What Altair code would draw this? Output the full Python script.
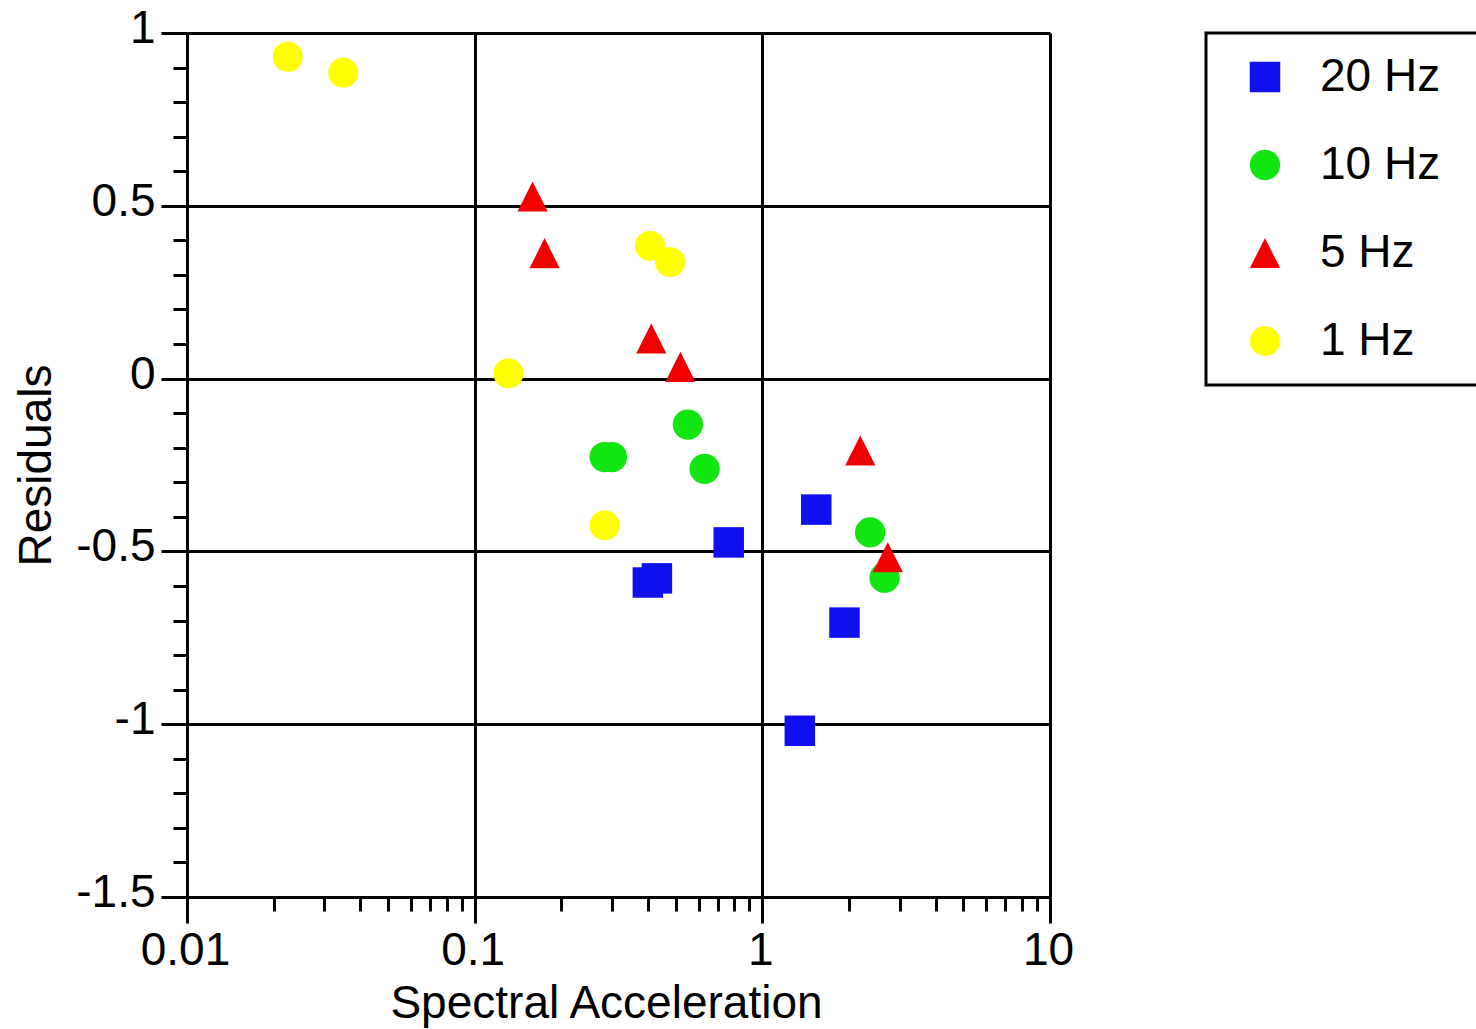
import altair as alt
import pandas as pd

# ---- data ----
series_names = ["20 Hz", "10 Hz", "5 Hz", "1 Hz"]

hz20_sa = [0.40, 0.43, 0.764, 1.54, 1.93, 1.35]
hz20_res = [-0.59, -0.578, -0.474, -0.379, -0.706, -1.019]

hz10_sa = [0.283, 0.300, 0.551, 0.630, 2.37, 2.66]
hz10_res = [-0.227, -0.227, -0.133, -0.261, -0.445, -0.576]

hz5_sa = [0.159, 0.175, 0.411, 0.519, 2.19, 2.73]
hz5_res = [0.527, 0.363, 0.116, 0.034, -0.208, -0.517]

hz1_sa = [0.0224, 0.0349, 0.407, 0.478, 0.131, 0.283]
hz1_res = [0.931, 0.885, 0.384, 0.337, 0.015, -0.425]

x_major = [0.01, 0.1, 1, 10]
x_minor = [0.02, 0.03, 0.04, 0.05, 0.06, 0.07, 0.08, 0.09,
           0.2, 0.3, 0.4, 0.5, 0.6, 0.7, 0.8, 0.9,
           2, 3, 4, 5, 6, 7, 8, 9]
y_major = [-1.5, -1, -0.5, 0, 0.5, 1]
y_minor = [-1.4, -1.3, -1.2, -1.1, -0.9, -0.8, -0.7, -0.6,
           -0.4, -0.3, -0.2, -0.1, 0.1, 0.2, 0.3, 0.4,
           0.6, 0.7, 0.8, 0.9]

series_colors = ["#0f0ff0", "#12e612", "#f00000", "#ffff00"]
tri = "M0,-1L-1,1L1,1Z"
series_shapes = ["square", "circle", tri, "circle"]
series_sizes = [930, 900, 960, 500]

rows = []
for name, xs, ys in [("20 Hz", hz20_sa, hz20_res), ("10 Hz", hz10_sa, hz10_res),
                     ("5 Hz", hz5_sa, hz5_res), ("1 Hz", hz1_sa, hz1_res)]:
    for a, b in zip(xs, ys):
        rows.append({"sa": a, "res": b, "series": name})
df = pd.DataFrame(rows)
df["order"] = df["series"].map({n: i for i, n in enumerate(series_names)})

FONT = "Liberation Sans"

xscale = alt.Scale(type="log", domain=[0.01, 10], nice=False)
yscale = alt.Scale(domain=[-1.5, 1], nice=False, zero=False)

x_major_axis = alt.Axis(
    orient="bottom", values=x_major, labelExpr="datum.value + ''",
    grid=True, gridColor="black", gridWidth=3, gridOpacity=1,
    tickSize=26, tickWidth=3, tickColor="black",
    domainColor="black", domainWidth=3,
    labelFont=FONT, labelFontSize=46, labelColor="black",
    labelBaseline="alphabetic", labelPadding=41, labelOffset=-2,
    labelFlush=False, labelOverlap=False,
    title="Spectral Acceleration", titleFont=FONT, titleFontSize=46,
    titleFontWeight="normal", titleColor="black",
    titleBaseline="alphabetic", titleAlign="center", titleX=419, titleY=120,
)
y_major_axis = alt.Axis(
    orient="left", values=y_major, labelExpr="datum.value + ''",
    grid=True, gridColor="black", gridWidth=3, gridOpacity=1,
    tickSize=26, tickWidth=3, tickColor="black",
    domainColor="black", domainWidth=3,
    labelFont=FONT, labelFontSize=46, labelColor="black",
    labelBaseline="alphabetic", labelPadding=6, labelOffset=9.5,
    labelFlush=False, labelOverlap=False, labelAlign="right",
    title="Residuals", titleFont=FONT, titleFontSize=46,
    titleFontWeight="normal", titleColor="black",
    titleBaseline="alphabetic", titleAlign="center", titleAngle=270,
    titleX=-137, titleY=432,
)
x_minor_axis = alt.Axis(
    orient="bottom", values=x_minor, labels=False, grid=False, domain=False,
    tickSize=14, tickWidth=3, tickColor="black", title=None,
)
y_minor_axis = alt.Axis(
    orient="left", values=y_minor, labels=False, grid=False, domain=False,
    tickSize=14, tickWidth=3, tickColor="black", title=None,
)

minor = alt.Chart(df).mark_point(opacity=0).encode(
    x=alt.X("sa:Q", scale=xscale, axis=x_minor_axis),
    y=alt.Y("res:Q", scale=yscale, axis=y_minor_axis),
)

legend = alt.Legend(
    title=None, orient="none", legendX=1019, legendY=0,
    labelExpr="datum.label + '\u00a0\u00a0\u200b'",
)

points = alt.Chart(df).mark_point(filled=True, opacity=1, strokeWidth=0).encode(
    x=alt.X("sa:Q", scale=xscale, axis=x_major_axis),
    y=alt.Y("res:Q", scale=yscale, axis=y_major_axis),
    color=alt.Color("series:N", scale=alt.Scale(domain=series_names, range=series_colors), legend=legend),
    shape=alt.Shape("series:N", scale=alt.Scale(domain=series_names, range=series_shapes), legend=legend),
    size=alt.Size("series:N", scale=alt.Scale(domain=series_names, range=series_sizes), legend=legend),
    order=alt.Order("order:Q"),
)

chart = alt.layer(minor, points).resolve_axis(
    x="independent", y="independent"
).properties(
    width=863, height=864,
    autosize=alt.AutoSizeParams(type="none"),
    padding={"left": 187, "top": 33, "right": 426, "bottom": 132},
    background="white",
).configure_view(
    strokeWidth=0
).configure_legend(
    strokeColor="black", strokeWidth=3, fillColor="white",
    padding=21, symbolOffset=15, labelOffset=32, rowPadding=42,
    labelFont=FONT, labelFontSize=46, labelColor="black", labelLimit=500,
    symbolStrokeWidth=0, symbolOpacity=1,
)

chart.save("out.html", embed_options={"renderer": "svg", "actions": False})
